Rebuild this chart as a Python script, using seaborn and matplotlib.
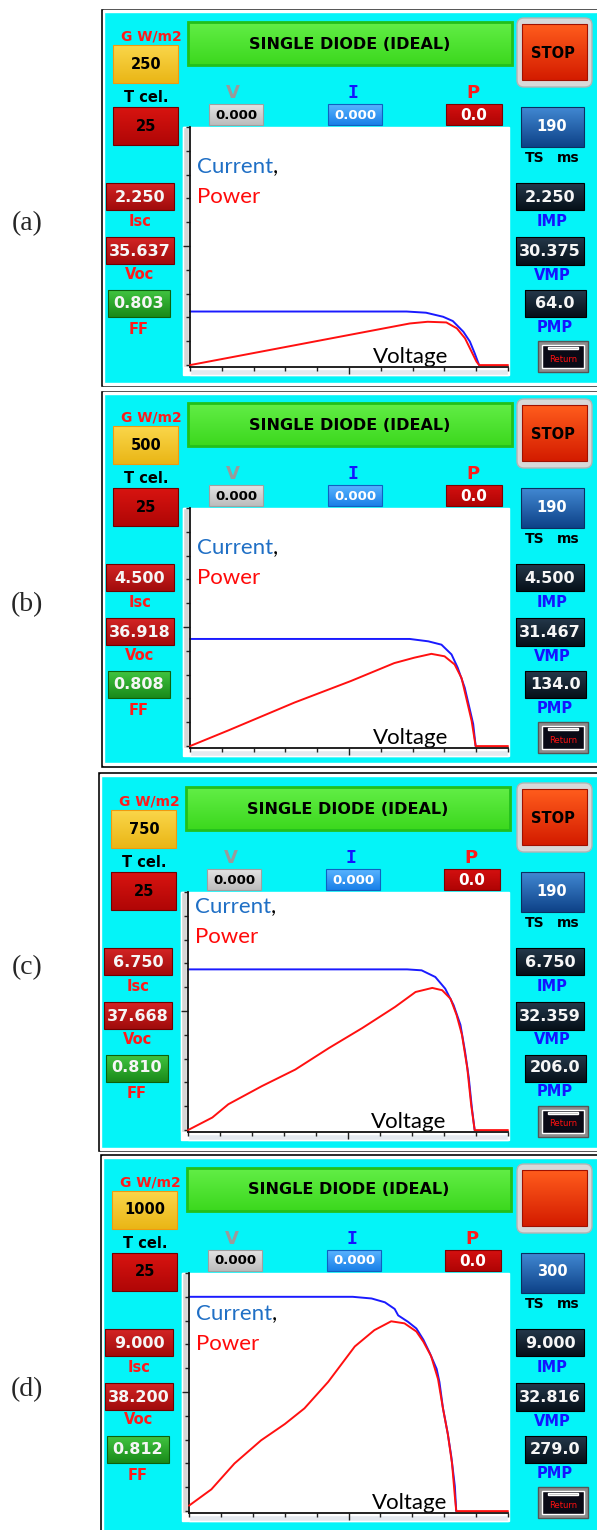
import numpy as np
import matplotlib.pyplot as plt
import seaborn as sns
from matplotlib.patches import Rectangle, FancyBboxPatch
from matplotlib.colors import LinearSegmentedColormap

# values (a)-(d)
panel_labels = ['(a)', '(b)', '(c)', '(d)']
irradiance = ['250', '500', '750', '1000']
t_cell = ['25', '25', '25', '25']
isc = ['2.250', '4.500', '6.750', '9.000']
voc = ['35.637', '36.918', '37.668', '38.200']
ff = ['0.803', '0.808', '0.810', '0.812']
imp = ['2.250', '4.500', '6.750', '9.000']
vmp = ['30.375', '31.467', '32.359', '32.816']
pmp = ['64.0', '134.0', '206.0', '279.0']
ts_ms = ['190', '190', '190', '300']
stop_text = ['STOP', 'STOP', 'STOP', '']
v_axis_max = [39.2, 41.1, 42.05, 45.6]

# I-V curves (V, A)
v_cur_a = [0, 26.7, 29.1, 31.2, 32.4, 33.7, 34.5, 35.1, 35.637]
i_cur_a = [2.25, 2.25, 2.20, 2.03, 1.85, 1.40, 0.99, 0.49, 0]
v_cur_b = [0, 28.4, 30.8, 32.5, 33.8, 34.6, 35.5, 36.1, 36.6, 36.918]
i_cur_b = [4.5, 4.5, 4.40, 4.26, 3.85, 3.29, 2.46, 1.63, 0.93, 0]
v_cur_c = [0, 28.8, 30.7, 32.5, 33.8, 34.9, 35.8, 36.4, 36.9, 37.3, 37.668]
i_cur_c = [6.75, 6.75, 6.71, 6.43, 5.94, 5.25, 4.42, 3.31, 2.19, 0.94, 0]
v_cur_d = [0, 23.4, 26.1, 28.0, 29.4, 29.9, 31.3, 32.5, 33.5, 34.4, 35.4, 35.8,
           36.3, 37.0, 37.5, 38.0, 38.2]
i_cur_d = [9.0, 9.0, 8.93, 8.77, 8.49, 8.22, 7.95, 7.67, 7.20, 6.65, 5.97, 5.42,
           4.33, 3.24, 2.28, 1.05, 0]

# P-V curves (V, W)
v_pow_a = [0, 27.1, 29.3, 31.6, 32.9, 33.9, 34.7, 35.3, 35.637, 39.2]
p_pow_a = [0, 61.2, 63.7, 62.7, 54, 39.4, 20, 5.4, 0, 0]
v_pow_b = [0, 4.9, 13.5, 20.8, 26.4, 29.0, 31.2, 32.9, 34.2, 35.1, 35.7, 36.4, 36.918, 41.1]
p_pow_b = [0, 22.8, 64, 95.7, 122, 130, 135.6, 132, 120, 100, 71, 37, 0, 0]
v_pow_c = [0, 3.2, 5.3, 9.7, 14.1, 18.5, 22.9, 27.2, 29.9, 32.1, 33.4, 34.5, 35.3,
           36.0, 36.7, 37.2, 37.668, 42.05]
p_pow_c = [0, 18.5, 38, 64.6, 89, 120.5, 150, 181, 203, 209, 205.6, 193, 169,
           140, 91, 38, 0, 0]
v_pow_d = [0, 3.2, 6.5, 10.3, 13.7, 16.5, 19.9, 23.7, 26.5, 28.9, 30.8, 32.5, 33.5,
           34.6, 35.6, 36.3, 37.0, 37.6, 38.0, 38.2, 45.6]
p_pow_d = [8, 32, 70, 104, 128, 151, 190, 242, 266, 279, 276, 264, 249,
           228, 194, 151, 113, 70, 22, 0, 0]

v_cur = [v_cur_a, v_cur_b, v_cur_c, v_cur_d]
i_cur = [i_cur_a, i_cur_b, i_cur_c, i_cur_d]
v_pow = [v_pow_a, v_pow_b, v_pow_c, v_pow_d]
p_pow = [p_pow_a, p_pow_b, p_pow_c, p_pow_d]

# layout (pixels)
W, H = 597, 1530
frames = [(100, 7.5, 387), (100, 389.5, 767.5), (97, 771, 1152), (99, 1153, 1536)]
dy = [0, 381, 765, 1146]
dx = [0, 0, -2, -1]
label_y = [224, 605, 968, 1390]
legend_dy = [40, 40, 15, 41]
CYAN = '#04f4f8'

sns.set_style('white')
fig = plt.figure(figsize=(W / 100, H / 100), dpi=100)
bg = fig.add_axes([0, 0, 1, 1])
bg.set_xlim(0, W)
bg.set_ylim(H, 0)
bg.set_autoscale_on(False)
bg.axis('off')


def grad_box(x, y, w, h, top, bottom, edge=None, z=3):
    cm = LinearSegmentedColormap.from_list('g', [top, bottom])
    bg.imshow(np.linspace(0, 1, 40).reshape(-1, 1), cmap=cm, extent=(x, x + w, y + h, y),
              aspect='auto', zorder=z, interpolation='bilinear')
    if edge:
        bg.add_patch(Rectangle((x, y), w, h, fill=False, ec=edge, lw=0.8, zorder=z + 0.1))


def txt(x, y, s, color='black', size=10, family='DejaVu Sans'):
    bg.text(x, y, s, color=color, fontsize=size, fontweight='bold', ha='center',
            va='center', family=family, zorder=6)


for k in range(4):
    ox, oy = dx[k], dy[k]

    # frame
    fx, fy0, fy1 = frames[k]
    bg.add_patch(Rectangle((fx, fy0), 610 - fx, fy1 - fy0, fc='black', zorder=1))
    bg.add_patch(Rectangle((fx + 2.5, fy0 + 2.5), 610, fy1 - fy0 - 5, fc='white', zorder=1.1))
    bg.add_patch(Rectangle((fx + 4, fy0 + 4.5), 610, fy1 - fy0 - 9, fc=CYAN, zorder=1.2))
    bg.text(27, label_y[k], panel_labels[k], family='Liberation Serif', fontsize=20,
            ha='center', va='center')

    # left column
    txt(151 + ox, 36 + oy, 'G W/m2', '#ff1a1a', 10)
    grad_box(113 + ox, 45 + oy, 65, 38, '#fad64a', '#eab616', '#f09a10')
    txt(146 + ox, 64 + oy, irradiance[k], 'black', 10.5)
    txt(146 + ox, 97 + oy, 'T cel.', 'black', 10.5)
    grad_box(113 + ox, 107 + oy, 65, 38, '#d81410', '#b00606', '#700000')
    txt(146 + ox, 126 + oy, t_cell[k], 'black', 10.5)
    grad_box(106 + ox, 183 + oy, 68, 27, '#d42424', '#a00c0c', '#700000')
    txt(140 + ox, 197 + oy, isc[k], '#f6f6f6', 11.5)
    txt(140 + ox, 221 + oy, 'Isc', '#ff1a1a', 10.5)
    grad_box(106 + ox, 237 + oy, 68, 27, '#d42424', '#a00c0c', '#700000')
    txt(140 + ox, 251 + oy, voc[k], '#f6f6f6', 11.5)
    txt(140 + ox, 274 + oy, 'Voc', '#ff1a1a', 10.5)
    grad_box(108 + ox, 290 + oy, 62, 27, '#40c440', '#1a8a1a', '#0c600c')
    txt(139 + ox, 303 + oy, ff[k], '#f6f6f6', 11.5)
    txt(139 + ox, 329 + oy, 'FF', '#ff1a1a', 10.5)

    # header
    grad_box(188 + ox, 22 + oy, 324, 43, '#62ee46', '#3cd81e', None)
    bg.add_patch(Rectangle((188 + ox, 22 + oy), 324, 43, fill=False, ec='#22c01c', lw=2, zorder=3.2))
    txt(350 + ox, 44 + oy, 'SINGLE DIODE (IDEAL)', 'black', 11.5)

    # V I P indicators
    txt(233 + ox, 93 + oy, 'V', '#9a9a9a', 13)
    grad_box(209 + ox, 104 + oy, 54, 21, '#e4e4e4', '#bcbcbc', '#a0a0a0')
    txt(236 + ox, 115 + oy, '0.000', 'black', 9.5)
    txt(353 + ox, 93 + oy, 'I', '#1414ff', 13, 'DejaVu Sans Mono')
    grad_box(328 + ox, 104 + oy, 54, 21, '#58b4ff', '#1a80e8', '#1060c0')
    txt(355 + ox, 115 + oy, '0.000', 'white', 9.5)
    txt(473 + ox, 93 + oy, 'P', '#ff1a1a', 13)
    grad_box(446 + ox, 104 + oy, 56, 21, '#d41010', '#b00404', '#800000')
    txt(474 + ox, 115 + oy, '0.0', 'white', 11)

    # right column
    bg.add_patch(FancyBboxPatch((517, 18 + oy), 75, 69, boxstyle='round,pad=0,rounding_size=7',
                                fc='#d8d8d8', ec='#b4b4b4', lw=1, zorder=2.5))
    grad_box(522, 24 + oy, 65, 56, '#ff5c1c', '#d41c00', '#a01000')
    txt(553, 53 + oy, stop_text[k], 'black', 10.5)
    grad_box(521, 107 + oy, 63, 40, '#4188d2', '#0e4288', '#0a3060')
    txt(552, 126 + oy, ts_ms[k], 'white', 10.5)
    txt(535, 158 + oy, 'TS', 'black', 10)
    txt(568, 158 + oy, 'ms', 'black', 10)
    grad_box(516, 183 + oy, 68, 27, '#24384a', '#061019', '#000000')
    txt(550, 197 + oy, imp[k], '#f6f6f6', 11.5)
    txt(552, 221 + oy, 'IMP', '#1414ff', 10.5)
    grad_box(516, 237 + oy, 68, 28, '#24384a', '#061019', '#000000')
    txt(550, 251 + oy, vmp[k], '#f6f6f6', 11.5)
    txt(552, 275 + oy, 'VMP', '#1414ff', 10.5)
    grad_box(525, 290 + oy, 61, 27, '#24384a', '#061019', '#000000')
    txt(555, 303 + oy, pmp[k], '#f6f6f6', 11.5)
    txt(555, 327 + oy, 'PMP', '#1414ff', 10.5)
    bg.add_patch(Rectangle((538, 341 + oy), 50, 31, fc='#8c8c8c', ec='#555555', lw=1, zorder=3))
    bg.add_patch(Rectangle((542, 345 + oy), 42, 23, fc='#0a0a16', zorder=3.1))
    bg.add_patch(Rectangle((548, 347 + oy), 30, 2, fc='#a8a8a8', zorder=3.2))
    bg.text(563, 359 + oy, 'Return', color='#ff1010', fontsize=6, ha='center', va='center', zorder=6)

    # plot area
    left, top, right, bottom = 190 + ox, 127 + oy, 508, 367 + oy
    bg.add_patch(Rectangle((183 + ox, top), right + 1 - (183 + ox), 248, fc='white', zorder=2))
    bg.add_patch(Rectangle((183 + ox, top), 5.5, 240, fc='#d6d6d6', zorder=2.1))
    bg.add_patch(Rectangle((left, bottom + 2), right - left, 6, fc='#e4e9ef', zorder=2.1))

    t = bg.text(197 + ox, top + legend_dy[k], 'Current', color='#1f6fc5', fontsize=16,
                family='Lato', ha='left', va='center', zorder=6)
    bg.annotate(',', xy=(1, 0), xycoords=t, ha='left', va='bottom', fontsize=16,
                family='Lato', color='black', zorder=6)
    bg.text(197 + ox, top + legend_dy[k] + 30, 'Power', color='#ff0a0a', fontsize=16,
            family='Lato', ha='left', va='center', zorder=6)
    bg.text(411 + ox, bottom - 10, 'Voltage', color='black', fontsize=16,
            family='Lato', ha='center', va='center', zorder=6)

    ax = fig.add_axes([left / W, 1 - bottom / H, (right - left) / W, (bottom - top) / H])
    ax.set_facecolor('none')
    sns.lineplot(x=v_cur[k], y=i_cur[k], ax=ax, color='#1a1aff', lw=1.4,
                 estimator=None, sort=False)
    twin = ax.twinx()
    sns.lineplot(x=v_pow[k], y=p_pow[k], ax=twin, color='#ff1010', lw=1.4,
                 estimator=None, sort=False)
    for line in ax.lines + twin.lines:
        line.set_clip_on(False)

    xmax = v_axis_max[k]
    ax.set_xlim(0, xmax)
    ax.set_ylim(-0.08, 10)
    twin.set_ylim(-2.8, 350)
    twin.axis('off')
    ax.set_xlabel('')
    ax.set_ylabel('')
    for s in ['top', 'right']:
        ax.spines[s].set_visible(False)
    for s in ['left', 'bottom']:
        ax.spines[s].set_color('#111111')
        ax.spines[s].set_linewidth(1.3)
    ax.set_xticks([xmax / 2])
    ax.set_xticks(np.linspace(0, xmax, 11), minor=True)
    ax.set_yticks([5])
    ax.set_yticks(np.arange(0, 11), minor=True)
    ax.tick_params(which='both', direction='out', bottom=True, left=True,
                   labelbottom=False, labelleft=False, color='#222222', width=1)
    ax.tick_params(which='major', length=5)
    ax.tick_params(which='minor', length=3)

fig.savefig('out.png', dpi=100)
